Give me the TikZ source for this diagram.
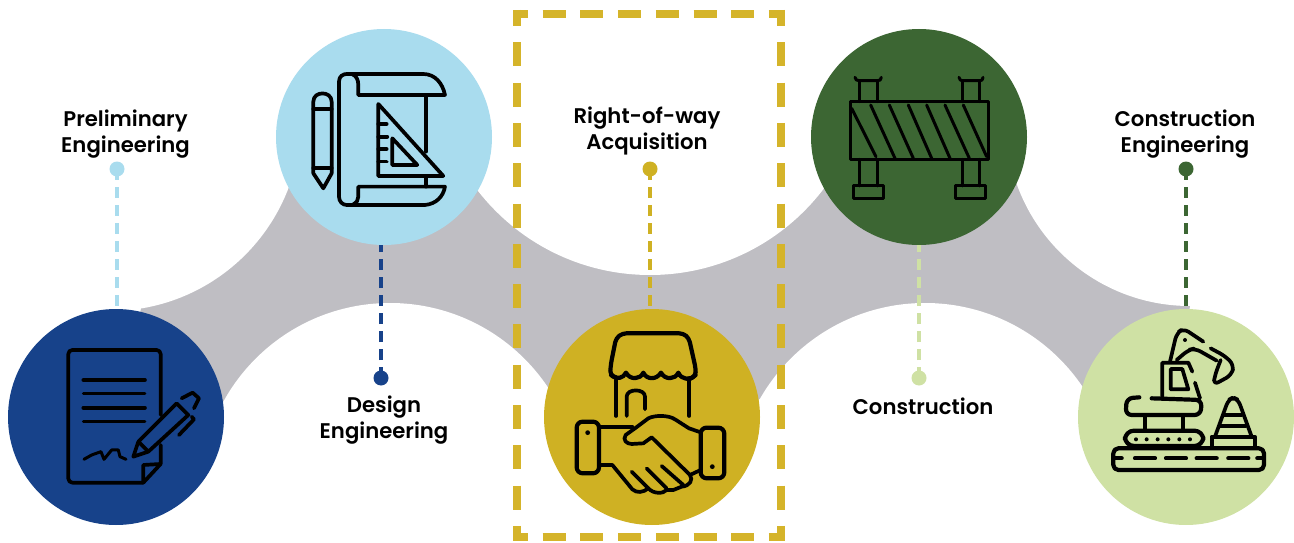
\documentclass[tikz,border=0pt]{standalone}
\usepackage{fontspec}
\newfontfamily\labfont{Poppins SemiBold}
\definecolor{cblue}{HTML}{17428A}
\definecolor{csky}{HTML}{A9DCEE}
\definecolor{cgold}{HTML}{CFB123}
\definecolor{cframe}{HTML}{D5B42A}
\definecolor{cgreen}{HTML}{3C6633}
\definecolor{clime}{HTML}{CFE1A4}
\definecolor{cgrey}{HTML}{BFBEC3}
\tikzset{
  disc/.style={circle,fill=#1,minimum size=216pt,inner sep=0pt,outer sep=0pt},
  pin/.style={circle,fill=#1,minimum size=15pt,inner sep=0pt,outer sep=0pt},
  stem/.style={draw=#1,line width=3.6pt,dash pattern=on 11pt off 7pt},
  lab/.style={font=\labfont\fontsize{21.2}{26}\selectfont,align=center,text=black,inner sep=0pt},
  framedash/.style={draw=cframe,line width=8pt},
  icon/.style={draw=black,line width=3.7pt,line cap=round,line join=round},
  thin icon/.style={draw=black,line width=3pt,line cap=round,line join=round},
  crop/.style={shift={#1},x=0.3333pt,y=-0.3333pt}
}
\begin{document}
\begin{tikzpicture}[x=1pt,y=-1pt]
\useasboundingbox (0,0) rectangle (1294,543);
% ribbon
\begin{scope}
\clip (0,0) rectangle (1294,543);
\fill[cgrey] (116,417) -- (143,300) -- (287,185) -- (384,137) -- (478,185) -- (650,270) -- (818,175) -- (919,137) -- (1020,175) -- (1190,300) -- (1186,417) -- (1082,395) -- (925,310) -- (758,400) -- (652,417) -- (547,388) -- (390,310) -- (223,402) -- cycle;
\fill[white] (110,120) circle[radius=191pt];
\fill[white] (650,57) circle[radius=218pt];
\fill[white] (1190,122) circle[radius=184pt];
\fill[white] (390,493) circle[radius=190pt];
\fill[white] (925,493) circle[radius=190pt];
\end{scope}
% frame
\coordinate (fa) at (513,14); \coordinate (fb) at (785,14);
\coordinate (fc) at (513,537); \coordinate (fd) at (785,537);
\coordinate (fe) at (517,10); \coordinate (ff) at (517,541);
\coordinate (fg) at (781,10); \coordinate (fh) at (781,541);
\draw[framedash,dash pattern=on 23pt off 14.7pt,dash phase=8pt] (fa) -- (fb);
\draw[framedash,dash pattern=on 23pt off 14.7pt,dash phase=8pt] (fc) -- (fd);
\draw[framedash,dash pattern=on 24pt off 16.3pt,dash phase=8pt] (fe) -- (ff);
\draw[framedash,dash pattern=on 24pt off 16.3pt,dash phase=8pt] (fg) -- (fh);
% discs
\node[disc=cblue] (c1) at (116,417) {};
\node[disc=csky] (c2) at (384,137) {};
\node[disc=cgold] (c3) at (652,417) {};
\node[disc=cgreen] (c4) at (919,137) {};
\node[disc=clime] (c5) at (1186,417) {};
% pins
\node[pin=csky] (p1) at (117,169) {};
\node[pin=cblue] (p2) at (381,378) {};
\node[pin=cgold] (p3) at (650,169) {};
\node[pin=clime] (p4) at (919,378) {};
\node[pin=cgreen] (p5) at (1186,169) {};
\draw[stem=csky] (p1.center) -- (p1.center |- c1.north);
\draw[stem=cblue] (p2.center) -- (p2.center |- c2.south);
\draw[stem=cgold] (p3.center) -- (p3.center |- c3.north);
\draw[stem=clime] (p4.center) -- (p4.center |- c4.south);
\draw[stem=cgreen] (p5.center) -- (p5.center |- c5.north);
% labels
\node[lab] (l1) at (125.5,134.5) {Preliminary\\Engineering};
\node[lab] (l2) at (384,420.5) {Design\\Engineering};
\node[lab] (l3) at (647,131) {Right-of-way\\Acquisition};
\node[lab] (l4) at (923,406) {Construction};
\node[lab] (l5) at (1185,134.5) {Construction\\Engineering};
% icon 1: document
\begin{scope}[crop={(0,300)}]
\draw[icon,rounded corners=4pt] (430,548) -- (205,548) -- (205,150) -- (482,150) -- (482,345);
\draw[icon] (482,435) -- (482,492) -- (430,548) -- (430,495) -- (482,492);
\draw[icon] (250,240) -- (435,240);
\draw[icon,line width=3pt] (250,282) -- (435,282);
\draw[icon] (250,323) -- (435,323);
\draw[icon,line width=3pt] (250,365) -- (435,365);
\draw[icon,line width=3pt] (252,478) -- (275,465) -- (303,455) -- (312,478) -- (335,450) -- (355,450) -- (360,470) -- (378,478);
\draw[icon] (415,425) -- (530,310) -- (565,345) -- (445,455) -- cycle;
\draw[icon] (415,425) -- (400,470) -- (445,455);
\draw[icon] (545,295) -- (578,278) -- (597,295) -- (582,325);
\draw[icon] (575,350) -- (582,358) -- (537,405);
\end{scope}
% icon 2: plan
\begin{scope}[crop={(270,0)}]
\draw[icon] (130,520) -- (130,305) .. controls (130,272) and (185,272) .. (185,305) -- (185,520) -- (160,565) -- cycle;
\draw[icon] (130,328) -- (185,328);
\draw[icon] (130,505) -- (185,505);
\draw[icon] (207,590) -- (207,245) .. controls (207,228) and (220,222) .. (230,222) -- (460,222) .. controls (495,222) and (518,250) .. (525,285) -- (265,285) -- (265,255) .. controls (265,238) and (258,226) .. (245,222);
\draw[icon] (207,590) .. controls (207,605) and (218,615) .. (230,615) -- (465,615) .. controls (498,612) and (520,590) .. (525,560) -- (265,560) -- (265,590) .. controls (265,600) and (260,608) .. (250,613);
\draw[icon] (468,285) -- (468,455);
\draw[icon] (468,530) -- (468,560);
\draw[icon] (325,312) -- (520,528) -- (325,528) -- cycle;
\draw[icon] (325,372) -- (350,372);
\draw[icon] (325,410) -- (352,410);
\draw[icon] (325,447) -- (350,447);
\draw[icon] (325,485) -- (350,485);
\draw[icon] (367,415) -- (442,495) -- (367,495) -- cycle;
\end{scope}
% icon 3: handshake and shop
\begin{scope}[crop={(535,300)}]
\draw[icon,line width=4.2pt,rounded corners=4pt] (243,232) -- (225,225) -- (228,190) -- (243,115) -- (262,100) -- (445,100) -- (462,115) -- (482,205) -- (482,228) -- (462,238);
\draw[icon,line width=4.2pt] (228,225) .. controls (245,240) and (265,235) .. (273,218) .. controls (285,240) and (315,240) .. (325,218) .. controls (335,240) and (365,240) .. (378,218) .. controls (390,240) and (420,240) .. (430,218) .. controls (440,240) and (465,242) .. (482,225);
\draw[icon] (243,240) -- (243,348);
\draw[icon] (463,240) -- (463,348);
\draw[icon] (275,348) -- (275,290) .. controls (275,265) and (330,265) .. (330,290) -- (330,328);
\draw[icon,line width=4.2pt,rounded corners=6pt] (125,365) rectangle (192,520);
\draw[icon,line width=4.2pt,rounded corners=6pt] (497,383) rectangle (568,535);
\fill[black] (158,398) circle[radius=2.4pt];
\fill[black] (532,500) circle[radius=2.4pt];
\draw[icon] (192,380) -- (292,380);
\draw[icon] (497,397) -- (462,385) -- (420,358) .. controls (400,345) and (360,345) .. (340,355) -- (300,385) -- (272,405) .. controls (262,420) and (275,432) .. (290,432) -- (325,430) -- (350,412) -- (465,525) -- (497,510);
\draw[icon] (465,525) .. controls (475,540) and (465,558) .. (440,560) -- (415,570) -- (395,570) .. controls (385,582) and (355,582) .. (340,565);
\draw[icon] (192,495) -- (232,495) -- (292,568) .. controls (305,580) and (325,578) .. (340,565);
\draw[icon] (290,515) -- (340,565);
\draw[icon] (335,505) -- (395,565);
\draw[icon] (380,498) -- (445,555);
\end{scope}
% icon 4: barrier
\begin{scope}[crop={(800,0)}]
\draw[thin icon] (152,305) rectangle (565,478);
\draw[thin icon] (155,325) -- (228,470);
\draw[thin icon] (212,315) -- (285,475);
\draw[thin icon] (268,315) -- (340,475);
\draw[thin icon] (325,315) -- (395,475);
\draw[thin icon] (380,315) -- (450,475);
\draw[thin icon] (435,315) -- (508,475);
\draw[thin icon] (490,315) -- (560,470);
\draw[thin icon] (178,305) -- (178,242);
\draw[thin icon] (232,305) -- (232,242);
\draw[thin icon] (165,232) .. controls (167,240) and (170,242) .. (178,242) -- (232,242) .. controls (240,242) and (243,240) .. (244,232);
\draw[thin icon] (487,305) -- (487,242);
\draw[thin icon] (540,305) -- (540,242);
\draw[thin icon] (477,232) .. controls (479,240) and (482,242) .. (487,242) -- (540,242) .. controls (546,242) and (548,240) .. (549,232);
\draw[thin icon] (178,478) -- (178,558);
\draw[thin icon] (232,478) -- (232,558);
\draw[thin icon] (160,558) rectangle (252,597);
\draw[thin icon] (487,478) -- (487,558);
\draw[thin icon] (540,478) -- (540,558);
\draw[thin icon] (467,558) rectangle (558,597);
\end{scope}
% icon 5: excavator
\begin{scope}[crop={(1060,300)}]
\draw[icon,line width=4.2pt,rounded corners=5pt] (160,445) rectangle (612,510);
\draw[icon,line width=4.2pt] (165,475) -- (185,475);
\draw[icon,line width=4.2pt] (225,475) -- (285,475);
\draw[icon,line width=4.2pt] (318,475) -- (378,475);
\draw[icon,line width=4.2pt] (410,475) -- (470,475);
\draw[icon,line width=4.2pt] (505,475) -- (565,475);
\draw[icon,line width=4.2pt] (592,475) -- (610,475);
\draw[icon,line width=4.2pt,rounded corners=9pt] (195,392) rectangle (430,438);
\foreach \dx in {228,260,293,325,358,390}{\fill[black] (\dx,418) circle[radius=2pt];}
\draw[icon] (255,352) -- (255,390);
\draw[icon] (368,352) -- (368,390);
\draw[icon,line width=4.2pt,rounded corners=6pt] (238,292) -- (200,295) -- (197,345) -- (422,345) -- (425,300) -- (275,295);
\draw[icon] (307,292) -- (307,188) -- (385,188) -- (397,215);
\draw[icon] (332,207) -- (367,207) -- (385,268) -- (332,268) -- cycle;
\draw[icon] (405,248) -- (420,295);
\draw[icon,rounded corners=6pt] (330,185) -- (350,100) -- (370,85) -- (430,125);
\draw[icon,rounded corners=6pt] (350,180) -- (385,150) -- (405,145) -- (470,182);
\fill[black] (375,120) circle[radius=2pt];
\draw[icon,rounded corners=6pt] (452,145) -- (495,168) -- (522,195) -- (515,225) -- (460,255) -- (465,225) -- (482,180);
\draw[icon,rounded corners=5pt] (465,410) -- (505,300) -- (520,292) -- (535,300) -- (575,410);
\draw[icon] (490,345) -- (545,345);
\draw[icon] (480,378) -- (557,378);
\draw[icon] (455,440) -- (455,410) -- (585,410) -- (585,440);
\end{scope}
\end{tikzpicture}
\end{document}
